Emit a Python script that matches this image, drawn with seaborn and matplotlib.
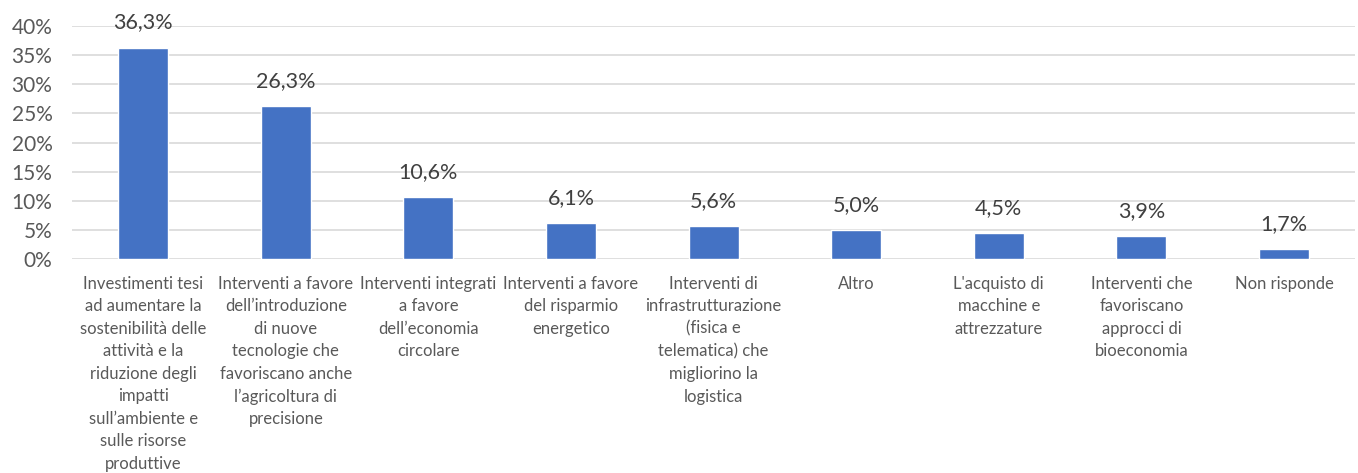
import matplotlib
matplotlib.use("Agg")
import matplotlib.pyplot as plt
import seaborn as sns
import pandas as pd

categories = [
    "Investimenti tesi\nad aumentare la\nsostenibilità delle\nattività e la\nriduzione degli\nimpatti\nsull’ambiente e\nsulle risorse\nproduttive",
    "Interventi a favore\ndell’introduzione\ndi nuove\ntecnologie che\nfavoriscano anche\nl’agricoltura di\nprecisione",
    "Interventi integrati\na favore\ndell’economia\ncircolare",
    "Interventi a favore\ndel risparmio\nenergetico",
    "Interventi di\ninfrastrutturazione\n(fisica e\ntelematica) che\nmigliorino la\nlogistica",
    "Altro",
    "L'acquisto di\nmacchine e\nattrezzature",
    "Interventi che\nfavoriscano\napprocci di\nbioeconomia",
    "Non risponde",
]
values = [36.3, 26.3, 10.6, 6.1, 5.6, 5.0, 4.5, 3.9, 1.7]
yticks = [0, 5, 10, 15, 20, 25, 30, 35, 40]

sns.set_theme(style="white")
plt.rcParams["font.family"] = ["Lato", "DejaVu Sans"]

text_color = "#595959"
df = pd.DataFrame({"cat": categories, "val": values})

fig = plt.figure(figsize=(13.58, 4.73), dpi=100)
ax = fig.add_axes([0.053, 0.4524, 0.945, 0.4926])

sns.barplot(data=df, x="cat", y="val", color="#4472C4", width=0.35,
            saturation=1, ax=ax, zorder=3)

ax.set_ylim(0, 40)
ax.set_xlim(-0.5, len(categories) - 0.5)
ax.set_yticks(yticks)
ax.set_yticklabels([f"{t}%" for t in yticks], fontsize=15, color=text_color)
ax.yaxis.grid(True, color="#D9D9D9", linewidth=1.2, zorder=0)
ax.set_axisbelow(True)
for s in ax.spines.values():
    s.set_visible(False)
ax.tick_params(axis="both", length=0)
ax.tick_params(axis="y", pad=14)
ax.tick_params(axis="x", pad=12)
ax.set_xlabel("")
ax.set_ylabel("")
ax.set_xticks(range(len(categories)))
ax.set_xticklabels(categories, fontsize=12, color=text_color,
                   linespacing=1.5, va="top")

for i, v in enumerate(values):
    ax.text(i, v + 2.6, f"{v:.1f}".replace(".", ",") + "%", ha="center",
            va="bottom", fontsize=15.5, color="#404040")

fig.savefig("out.png", dpi=100)
